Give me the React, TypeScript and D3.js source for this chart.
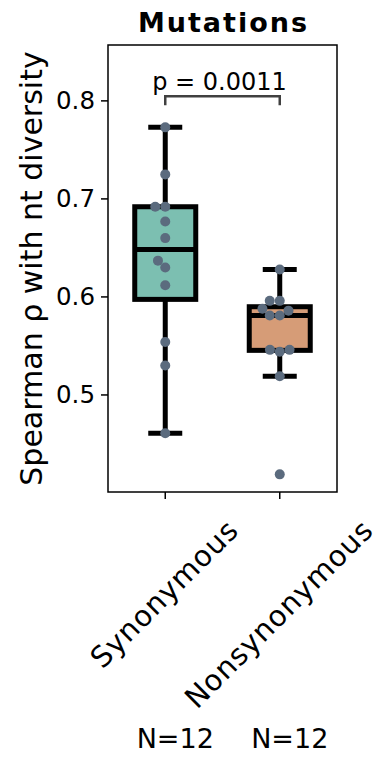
import { useMemo } from "react";
import * as d3 from "d3";

const categories = ["Synonymous", "Nonsynonymous"];
const synonymous = [0.773, 0.725, 0.692, 0.692, 0.677, 0.66, 0.637, 0.63, 0.612, 0.554, 0.53, 0.461];
const nonsynonymous = [0.628, 0.596, 0.596, 0.588, 0.586, 0.581, 0.581, 0.546, 0.546, 0.544, 0.519, 0.419];
const seriesValues = [synonymous, nonsynonymous];
const yTickValues = [0.5, 0.6, 0.7, 0.8];
const nLabels = ["N=12", "N=12"];
const pLabel = "p = 0.0011";

const fills = ["#7cbfb1", "#d69c77"];
const dotColor = "#5b6b7e";
const font = "DejaVu Sans, Verdana, sans-serif";

function boxStats(values: number[]) {
  const s = [...values].sort(d3.ascending);
  const q1 = d3.quantileSorted(s, 0.25) ?? 0;
  const med = d3.quantileSorted(s, 0.5) ?? 0;
  const q3 = d3.quantileSorted(s, 0.75) ?? 0;
  const iqr = q3 - q1;
  const lo = d3.min(s.filter((v) => v >= q1 - 1.5 * iqr)) ?? q1;
  const hi = d3.max(s.filter((v) => v <= q3 + 1.5 * iqr)) ?? q3;
  return { q1, med, q3, lo, hi };
}

// simple beeswarm: place each point at the free offset closest to the centre
function swarm(ys: number[], r: number) {
  const placed: Array<{ y: number; dx: number }> = [];
  const order = ys.map((y, i) => ({ y, i })).sort((a, b) => b.y - a.y);
  const out = new Array(ys.length).fill(0);
  const d = 2 * r;
  for (const p of order) {
    const cands = [0];
    for (const q of placed) {
      const dy = Math.abs(q.y - p.y);
      if (dy < d) {
        const h = Math.sqrt(d * d - dy * dy) + 0.01;
        cands.push(q.dx - h, q.dx + h);
      }
    }
    cands.sort((a, b) => Math.abs(a) - Math.abs(b) || a - b);
    const ok = cands.find((c) => placed.every((q) => (q.dx - c) ** 2 + (q.y - p.y) ** 2 >= d * d - 0.01)) ?? 0;
    placed.push({ y: p.y, dx: ok });
    out[p.i] = ok;
  }
  return out;
}

function measure(text: string, size: number, spacing: number) {
  const ctx = document.createElement("canvas").getContext("2d");
  if (!ctx) return text.length * size * 0.6;
  ctx.font = `${size}px DejaVu Sans`;
  return ctx.measureText(text).width + spacing * text.length;
}

export default function App() {
  const width = 379;
  const height = 757;
  const frame = { left: 108, right: 337, top: 45, bottom: 492 };

  const x = useMemo(() => d3.scalePoint<string>().domain(categories).range([frame.left, frame.right]).padding(0.5), []);
  const y = useMemo(() => d3.scaleLinear().domain([0.401, 0.857]).range([frame.bottom, frame.top]), []);

  const boxW = 61;
  const capW = 34;
  const r = 5;
  const labelSize = 29;
  const labelSpacing = 0.8;

  const groups = categories.map((c, i) => {
    const vals = seriesValues[i];
    const st = boxStats(vals);
    const offs = swarm(vals.map((v) => y(v)), r);
    return { c, i, vals, st, offs, cx: x(c) ?? 0 };
  });

  const maxVal = d3.max(seriesValues.flat()) ?? 0;
  const bracketY = y(maxVal) - 31;
  const x0 = x(categories[0]) ?? 0;
  const x1 = x(categories[1]) ?? 0;

  return (
    <svg width={width} height={height} style={{ position: "absolute", left: 0, top: 0, background: "#fff" }}>
      <text x={(frame.left + frame.right) / 2 + 1} y={32} textAnchor="middle" fontFamily={font} fontWeight="bold" fontSize={27} letterSpacing={2}>Mutations</text>

      {groups.map((g) => (
        <g key={g.c}>
          <line x1={g.cx} x2={g.cx} y1={y(g.st.hi)} y2={y(g.st.lo)} stroke="#000" strokeWidth={5} />
          <line x1={g.cx - capW / 2} x2={g.cx + capW / 2} y1={y(g.st.hi)} y2={y(g.st.hi)} stroke="#000" strokeWidth={5} />
          <line x1={g.cx - capW / 2} x2={g.cx + capW / 2} y1={y(g.st.lo)} y2={y(g.st.lo)} stroke="#000" strokeWidth={5} />
          <rect x={g.cx - boxW / 2} y={y(g.st.q3)} width={boxW} height={y(g.st.q1) - y(g.st.q3)} fill={fills[g.i]} stroke="#000" strokeWidth={5} />
          <line x1={g.cx - boxW / 2} x2={g.cx + boxW / 2} y1={y(g.st.med)} y2={y(g.st.med)} stroke="#000" strokeWidth={5} />
        </g>
      ))}
      {groups.map((g) =>
        g.vals.map((v, j) => <circle key={`${g.c}-${j}`} cx={g.cx + g.offs[j]} cy={y(v)} r={r} fill={dotColor} />)
      )}

      <path d={`M${x0},${bracketY + 9}V${bracketY}H${x1}V${bracketY + 9}`} fill="none" stroke="#404040" strokeWidth={2.5} />
      <text x={(x0 + x1) / 2 - 3} y={bracketY - 6} textAnchor="middle" fontFamily={font} fontSize={24}>{pLabel}</text>

      <rect x={frame.left} y={frame.top} width={frame.right - frame.left} height={frame.bottom - frame.top} fill="none" stroke="#000" strokeWidth={1.5} />

      {yTickValues.map((t) => (
        <g key={t}>
          <line x1={frame.left - 7} x2={frame.left} y1={y(t)} y2={y(t)} stroke="#000" strokeWidth={1.5} />
          <text x={frame.left - 13} y={y(t) + 8.5} textAnchor="end" fontFamily={font} fontSize={24.5}>{d3.format(".1f")(t)}</text>
        </g>
      ))}
      <text transform={`translate(42, ${(frame.top + frame.bottom) / 2}) rotate(-90)`} textAnchor="middle" fontFamily={font} fontSize={30}>Spearman ρ with nt diversity</text>

      {categories.map((c) => {
        const cx = x(c) ?? 0;
        const L = measure(c, labelSize, labelSpacing);
        const H = labelSize * 1.164;
        const side = (L + H) * Math.SQRT1_2;
        const cy = frame.bottom + 21 + side / 2;
        return (
          <g key={c}>
            <line x1={cx} x2={cx} y1={frame.bottom} y2={frame.bottom + 7} stroke="#000" strokeWidth={1.5} />
            <text transform={`translate(${cx - 1}, ${cy}) rotate(-45)`} textAnchor="middle" dy="0.35em" fontFamily={font} fontSize={labelSize} letterSpacing={labelSpacing}>{c}</text>
          </g>
        );
      })}
      {categories.map((c, i) => (
        <text key={`n-${c}`} x={(x(c) ?? 0) + 10} y={748} textAnchor="middle" fontFamily={font} fontSize={27}>{nLabels[i]}</text>
      ))}
    </svg>
  );
}
